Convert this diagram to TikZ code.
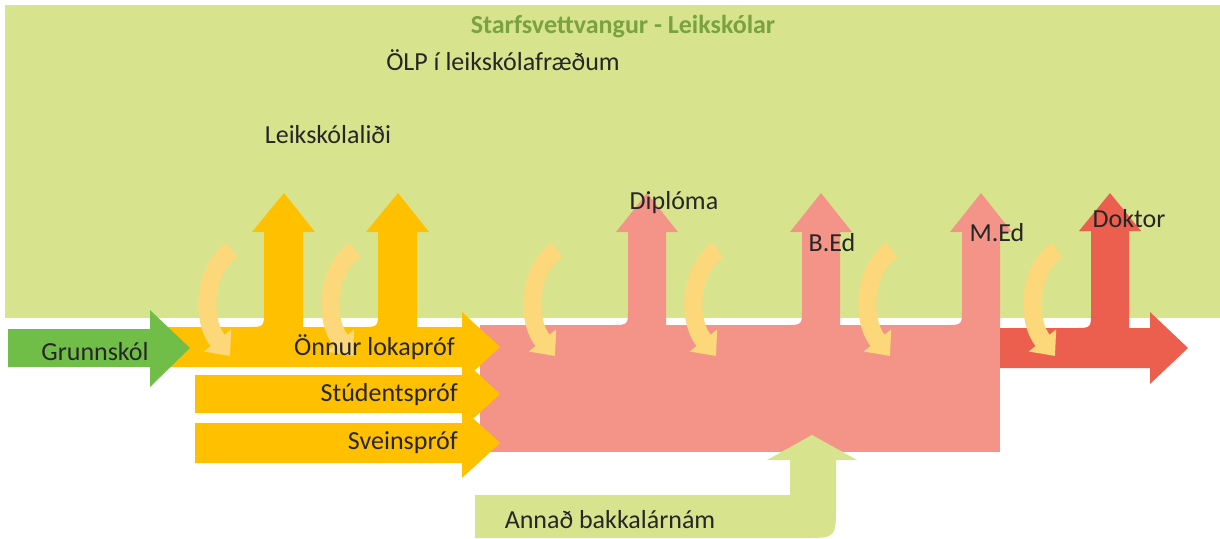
\documentclass[tikz,border=0pt]{standalone}
\usepackage{fontspec}
\setmainfont{Carlito}
\usetikzlibrary{arrows.meta}
\definecolor{bg}{RGB}{215,228,141}
\definecolor{orng}{RGB}{255,192,0}
\definecolor{grn}{RGB}{112,190,72}
\definecolor{pnk}{RGB}{244,148,136}
\definecolor{rd}{RGB}{236,94,78}
\definecolor{lyel}{RGB}{252,216,122}
\definecolor{ttl}{RGB}{122,162,62}
\begin{document}
\begin{tikzpicture}[x=1pt,y=-1pt,
  lbl/.style={font=\fontsize{26}{30}\selectfont, text=black!85, inner sep=0pt},
  curv/.style={draw=lyel, line width=18pt, -{Triangle[width=34pt,length=20pt]}}]
\useasboundingbox (0,0) rectangle (1220,538);
% background
\fill[bg] (5,5) rectangle (1220,318);
% pink block
\fill[pnk] (480,325) rectangle (1000,452);
% pink up arrows
\foreach \a/\b/\t in {628/666/647, 802/840/821, 962/1000/981}{
  \fill[pnk] ({\a-16},327) -- ({\a-16},325) .. controls (\a,325) .. (\a,309) -- (\a,232) -- ({\a-12},232)
     -- (\t,193) -- ({\b+12},232) -- (\b,232) -- (\b,327) -- cycle;
}
% red band and Doktor arrow
\fill[rd] (1000,328) -- (1150,328) -- (1150,312) -- (1188,348) -- (1150,384) -- (1150,368) -- (1000,368) -- cycle;
\fill[rd] (1075,330) -- (1075,328) .. controls (1091,328) .. (1091,312) -- (1091,231) -- (1079,231)
     -- (1110,193) -- (1141,231) -- (1129,231) -- (1129,330) -- cycle;
% orange bands
\fill[orng] (168,327) -- (462,327) -- (462,312) -- (500,347) -- (462,382) -- (462,367) -- (168,367) -- cycle;
\fill[orng] (195,375) -- (462,375) -- (462,359) -- (500,394) -- (462,429) -- (462,413) -- (195,413) -- cycle;
\fill[orng] (195,423) -- (462,423) -- (462,408) -- (500,443) -- (462,478) -- (462,463) -- (195,463) -- cycle;
% orange up arrows
\foreach \a/\b/\t in {264/303/284, 378/417/398}{
  \fill[orng] ({\a-16},329) -- ({\a-16},327) .. controls (\a,327) .. (\a,311) -- (\a,232) -- ({\a-12},232)
     -- (\t,193) -- ({\b+12},232) -- (\b,232) -- (\b,329) -- cycle;
}
% green arrow
\fill[grn] (8,329) -- (150,329) -- (150,310) -- (190,348) -- (150,387) -- (150,367) -- (8,367) -- cycle;
% light green bottom arrow
\fill[bg] (475,495) -- (790,495) -- (790,460) -- (767,460) -- (812,435) -- (857,460) -- (836,460)
   -- (836,505) .. controls (836,538) .. (805,538) -- (475,538) -- cycle;
% curved arrows
\foreach \c in {202,325,527,688,862,1027}{
  \draw[curv] ({\c+30},250) .. controls ({\c+1},270) and ({\c-1},320) .. ({\c+28},356);
}
% texts
\node[font=\fontsize{26}{30}\selectfont\bfseries, text=ttl, inner sep=0pt] (title) at (623,27) {Starfsvettvangur - Leikskólar};
\node[lbl] (olp) at (503,60) {ÖLP í leikskólafræðum};
\node[lbl] (lidi) at (328,135) {Leikskólaliði};
\node[lbl] (grunn) at (95,352) {Grunnskól};
\node[lbl, anchor=east] (onnur) at (455,347) {Önnur lokapróf};
\node[lbl, anchor=east] (stud) at (458,395) {Stúdentspróf};
\node[lbl, anchor=east] (svein) at (458,443) {Sveinspróf};
\node[lbl] (dipl) at (674,203) {Diplóma};
\node[lbl] (bed) at (832,243) {B.Ed};
\node[lbl] (med) at (997,233) {M.Ed};
\node[lbl] (dokt) at (1129,219) {Doktor};
\node[lbl] (annad) at (610,520) {Annað bakkalárnám};
\end{tikzpicture}
\end{document}
